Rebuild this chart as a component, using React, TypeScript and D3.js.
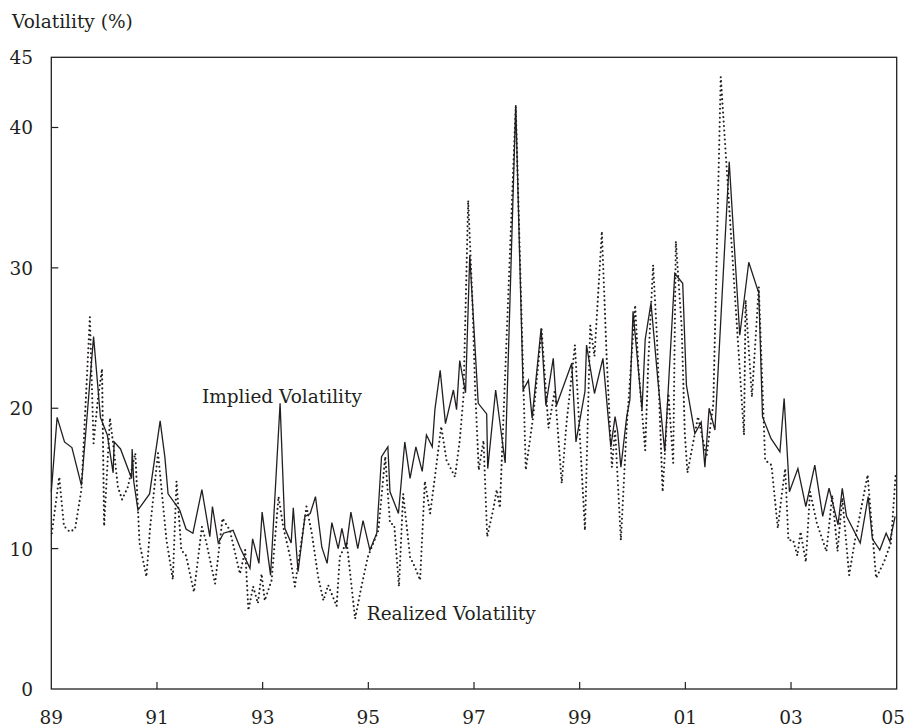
import React from "react";
import * as d3 from "d3";

// decimal years, with the matching volatility (%)
const impliedDates = [
  1989.0, 1989.11, 1989.25, 1989.39, 1989.57, 1989.8, 1989.93, 1990.06, 1990.17, 1990.19,
  1990.31, 1990.52, 1990.53, 1990.56, 1990.64, 1990.86, 1991.06, 1991.15, 1991.21, 1991.43,
  1991.55, 1991.68, 1991.85, 1992.0, 1992.05, 1992.16, 1992.26, 1992.44, 1992.57, 1992.76,
  1992.81, 1992.93, 1992.99, 1993.15, 1993.33, 1993.42, 1993.54, 1993.58, 1993.67, 1993.8,
  1993.9, 1994.0, 1994.12, 1994.22, 1994.31, 1994.43, 1994.5, 1994.58, 1994.67, 1994.8,
  1994.9, 1995.03, 1995.16, 1995.25, 1995.37, 1995.41, 1995.57, 1995.69, 1995.79, 1995.9,
  1996.02, 1996.1, 1996.21, 1996.26, 1996.36, 1996.46, 1996.61, 1996.67, 1996.73, 1996.84,
  1996.92, 1997.08, 1997.24, 1997.26, 1997.41, 1997.59, 1997.79, 1997.93, 1998.03, 1998.1,
  1998.27, 1998.36, 1998.5, 1998.56, 1998.85, 1998.93, 1999.1, 1999.13, 1999.28, 1999.44,
  1999.59, 1999.67, 1999.72, 1999.78, 1999.89, 1999.95, 2000.01, 2000.18, 2000.24, 2000.35,
  2000.48, 2000.61, 2000.8, 2000.95, 2001.02, 2001.18, 2001.3, 2001.37, 2001.45, 2001.56,
  2001.83, 2002.03, 2002.2, 2002.39, 2002.46, 2002.62, 2002.79, 2002.87, 2002.97, 2003.13,
  2003.28, 2003.45, 2003.6, 2003.72, 2003.89, 2003.97, 2004.05, 2004.31, 2004.46, 2004.54,
  2004.68, 2004.8, 2004.87, 2004.97,
];
const impliedValues = [
  14.05, 19.35, 17.6, 17.2, 14.5, 25.1, 19.35, 18.1, 15.4, 17.6,
  17.1, 15.0, 17.1, 14.8, 12.75, 13.9, 19.1, 16.5, 13.9, 12.75,
  11.4, 11.1, 14.2, 10.85, 13.0, 10.4, 11.1, 11.3, 10.1, 8.6,
  10.7, 8.95, 12.6, 8.1, 20.35, 11.45, 10.4, 12.9, 8.35, 12.3,
  12.5, 13.7, 10.1, 8.95, 11.85, 10.0, 11.45, 10.0, 12.6, 10.0,
  12.0, 9.9, 11.1, 16.55, 17.25, 14.05, 12.5, 17.6, 15.0, 17.25,
  15.5, 18.1, 17.25, 19.9, 22.7, 18.9, 21.3, 19.9, 23.4, 21.1,
  30.9, 20.35, 19.6, 15.7, 21.3, 16.1, 41.6, 21.3, 22.0, 19.3,
  25.7, 20.2, 23.55, 20.2, 23.2, 17.6, 21.2, 24.5, 21.05, 23.55,
  17.25, 19.4, 18.3, 15.8, 19.4, 20.6, 26.9, 19.9, 24.9, 27.5,
  22.0, 16.9, 29.6, 28.9, 21.65, 18.2, 19.0, 15.8, 20.0, 18.45,
  37.55, 25.2, 30.4, 28.2, 19.4, 17.85, 16.9, 20.7, 14.05, 15.7,
  13.0, 15.95, 12.3, 14.3, 11.7, 14.3, 12.3, 10.4, 13.7, 10.7,
  9.9, 11.1, 10.5, 12.3,
];

const realizedDates = [
  1989.01, 1989.15, 1989.24, 1989.35, 1989.45, 1989.57, 1989.73, 1989.8, 1989.88, 1989.96,
  1990.0, 1990.11, 1990.17, 1990.26, 1990.34, 1990.45, 1990.59, 1990.67, 1990.8, 1990.87,
  1991.02, 1991.18, 1991.3, 1991.37, 1991.46, 1991.55, 1991.7, 1991.85, 1991.93, 1992.1,
  1992.24, 1992.38, 1992.57, 1992.67, 1992.73, 1992.82, 1992.91, 1992.98, 1993.04, 1993.17,
  1993.3, 1993.39, 1993.52, 1993.61, 1993.71, 1993.83, 1993.93, 1994.05, 1994.15, 1994.24,
  1994.4, 1994.46, 1994.59, 1994.75, 1994.87, 1994.99, 1995.19, 1995.32, 1995.41, 1995.49,
  1995.58, 1995.66, 1995.79, 1995.88, 1995.98, 1996.07, 1996.17, 1996.26, 1996.38, 1996.48,
  1996.64, 1996.73, 1996.8, 1996.89, 1996.97, 1997.02, 1997.09, 1997.18, 1997.25, 1997.37,
  1997.43, 1997.49, 1997.79, 1997.98, 1998.12, 1998.28, 1998.41, 1998.53, 1998.66, 1998.75,
  1998.91, 1999.1, 1999.2, 1999.28, 1999.42, 1999.51, 1999.61, 1999.67, 1999.78, 1999.89,
  2000.05, 2000.11, 2000.24, 2000.3, 2000.39, 2000.46, 2000.57, 2000.68, 2000.77, 2000.82,
  2000.93, 2000.99, 2001.04, 2001.24, 2001.4, 2001.53, 2001.67, 2002.11, 2002.14, 2002.26,
  2002.39, 2002.51, 2002.63, 2002.75, 2002.82, 2002.89, 2002.95, 2003.04, 2003.12, 2003.18,
  2003.28, 2003.36, 2003.49, 2003.67, 2003.78, 2003.88, 2003.97, 2004.1, 2004.21, 2004.26,
  2004.45, 2004.61, 2004.76, 2004.89, 2004.98,
];
const realizedValues = [
  11.1, 15.1, 11.6, 11.2, 11.4, 14.2, 26.5, 17.5, 20.6, 22.8,
  11.6, 19.3, 17.5, 14.4, 13.5, 14.4, 16.8, 10.4, 8.0, 11.5,
  16.8, 10.6, 7.8, 14.8, 9.9, 9.5, 6.9, 11.55, 10.5, 7.5,
  12.15, 11.3, 8.2, 9.9, 5.6, 7.3, 6.1, 8.2, 6.3, 7.75,
  13.7, 11.55, 9.4, 7.3, 9.9, 13.0, 11.1, 8.0, 6.3, 7.4,
  5.9, 9.4, 10.5, 5.0, 7.3, 9.4, 11.3, 16.55, 11.8, 11.7,
  7.3, 13.9, 9.4, 8.7, 7.75, 14.8, 12.5, 15.1, 18.7, 16.3,
  15.1, 17.7, 20.8, 34.8, 27.7, 21.5, 15.6, 17.7, 10.85, 12.9,
  14.2, 12.9, 41.5, 15.6, 19.4, 25.6, 18.6, 21.3, 14.65, 18.9,
  24.5, 11.3, 25.9, 23.7, 32.6, 23.7, 15.8, 18.5, 10.6, 18.7,
  27.35, 22.95, 17.0, 23.4, 30.2, 25.3, 14.05, 21.05, 16.1, 31.9,
  25.8, 18.2, 15.4, 19.4, 16.55, 20.35, 43.6, 18.1, 27.7, 20.8,
  28.65, 16.3, 15.95, 11.45, 13.7, 15.7, 10.6, 10.6, 9.5, 11.2,
  9.05, 14.05, 11.8, 9.8, 13.8, 9.8, 13.6, 8.1, 10.6, 11.55,
  15.25, 7.9, 9.05, 10.4, 15.25,
];

const xTickYears = [1991, 1993, 1995, 1997, 1999, 2001, 2003];
const xLabelYears = [1989, 1991, 1993, 1995, 1997, 1999, 2001, 2003, 2005];
const yTicks = [10, 20, 30, 40];
const yLabels = [0, 10, 20, 30, 40, 45];

const W = 906;
const H = 727;
const margin = { top: 57.3, right: 9.3, bottom: 38, left: 51.3 };
const ink = "#231f20";
const textStyle: React.CSSProperties = {
  fontFamily: '"DejaVu Serif", serif',
  fontSize: "18.5px",
};

const App: React.FC = () => {
  const x = d3.scaleLinear().domain([1989, 2005]).range([margin.left, W - margin.right]);
  const y = d3.scaleLinear().domain([0, 45]).range([H - margin.bottom, margin.top]);

  const line = d3
    .line<[number, number]>()
    .x((d) => x(d[0]))
    .y((d) => y(d[1]));

  const implied = impliedDates.map((d, i) => [d, impliedValues[i]] as [number, number]);
  const realized = realizedDates.map((d, i) => [d, realizedValues[i]] as [number, number]);

  const [x0, x1] = x.range();
  const [y0, y1] = y.range();
  const lastYear = xLabelYears[xLabelYears.length - 1];

  return (
    <svg
      width={W}
      height={H}
      style={{ position: "absolute", left: 0, top: 0, background: "#fff" }}
      fill={ink}
    >
      <text x={12} y={28} style={textStyle}>
        Volatility (%)
      </text>

      {/* series */}
      <path d={line(realized)!} fill="none" stroke={ink} strokeWidth={2.1}
        strokeDasharray="0 4.5" strokeLinecap="round" strokeLinejoin="round" />
      <path d={line(implied)!} fill="none" stroke={ink} strokeWidth={1.3} />

      {/* frame */}
      <rect x={x0} y={y1} width={x1 - x0} height={y0 - y1} fill="none" stroke={ink} strokeWidth={1.3} />

      {xTickYears.map((yr) => (
        <line key={yr} x1={x(yr)} x2={x(yr)} y1={y0} y2={y0 - 7} stroke={ink} strokeWidth={1.2} />
      ))}
      {yTicks.map((v) => (
        <line key={v} x1={x0} x2={x0 + 7} y1={y(v)} y2={y(v)} stroke={ink} strokeWidth={1.2} />
      ))}

      {xLabelYears.map((yr) => (
        <text
          key={yr}
          x={yr === lastYear ? W - 1 : x(yr)}
          y={724}
          style={textStyle}
          textAnchor={yr === lastYear ? "end" : "middle"}
        >
          {String(yr % 100).padStart(2, "0")}
        </text>
      ))}
      {yLabels.map((v) => (
        <text key={v} x={33} y={y(v) + 7} style={textStyle} textAnchor="end">
          {v}
        </text>
      ))}

      <text x={x(1991.85)} y={y(20.35)} style={textStyle}>
        Implied Volatility
      </text>
      <text x={x(1994.97)} y={y(4.9)} style={textStyle}>
        Realized Volatility
      </text>
    </svg>
  );
};

export default App;
